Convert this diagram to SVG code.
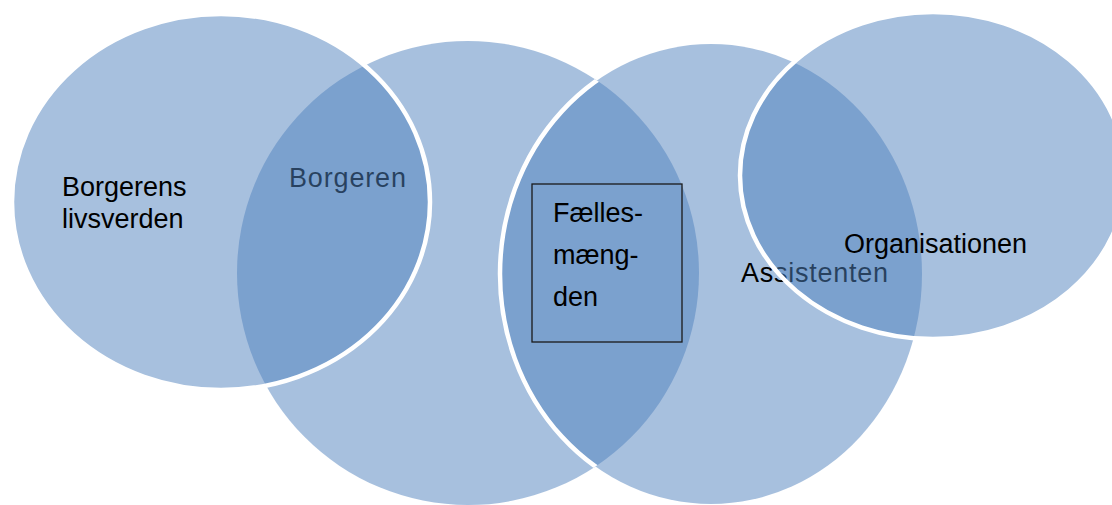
<svg xmlns="http://www.w3.org/2000/svg" width="1112" height="505" viewBox="0 0 1112 505">
  <style>
    .fill { fill: #4F81BD; fill-opacity: 0.5; stroke: none; }
    .ring { fill: none; stroke: #FFFFFF; stroke-width: 4.5; }
    .lbl { font-family: "Liberation Sans", Arial, sans-serif; font-size: 27px; fill: #000000; }
    .box { fill: none; stroke: #1a1a1a; stroke-width: 1.3; }
  </style>
  <defs>
    <clipPath id="inside2">
      <ellipse cx="468" cy="273" rx="231" ry="232"/>
    </clipPath>
  </defs>
  <rect x="0" y="0" width="1112" height="505" fill="#FFFFFF"/>

  <g id="node-borgeren">
    <ellipse class="fill" cx="468" cy="273" rx="231" ry="232"/>
    <text class="lbl" x="289" y="187" textLength="117" lengthAdjust="spacing">Borgeren</text>
  </g>

  <g id="node-borgerens-livsverden">
    <ellipse class="fill" cx="221" cy="202" rx="209" ry="188"/>
    <ellipse class="ring" cx="221" cy="202" rx="209" ry="188"/>
    <text class="lbl" x="62" y="196">Borgerens</text>
    <text class="lbl" x="62" y="228">livsverden</text>
  </g>

  <g id="node-assistenten">
    <ellipse class="fill" cx="711" cy="274" rx="211" ry="230"/>
    <ellipse class="ring" cx="711" cy="274" rx="211" ry="230" clip-path="url(#inside2)"/>
    <text class="lbl" x="741" y="282" textLength="147" lengthAdjust="spacing">Assistenten</text>
  </g>

  <g id="node-organisationen">
    <ellipse class="fill" cx="933" cy="175.5" rx="193" ry="163.5"/>
    <ellipse class="ring" cx="933" cy="175.5" rx="193" ry="163.5"/>
    <text class="lbl" x="844" y="253">Organisationen</text>
  </g>

  <g id="node-faellesmaengden">
    <rect class="box" x="532" y="184" width="150" height="158"/>
    <text class="lbl" x="553" y="222">Fælles-</text>
    <text class="lbl" x="553" y="264">mæng-</text>
    <text class="lbl" x="553" y="306">den</text>
  </g>

  <g id="connectors"></g>
</svg>
